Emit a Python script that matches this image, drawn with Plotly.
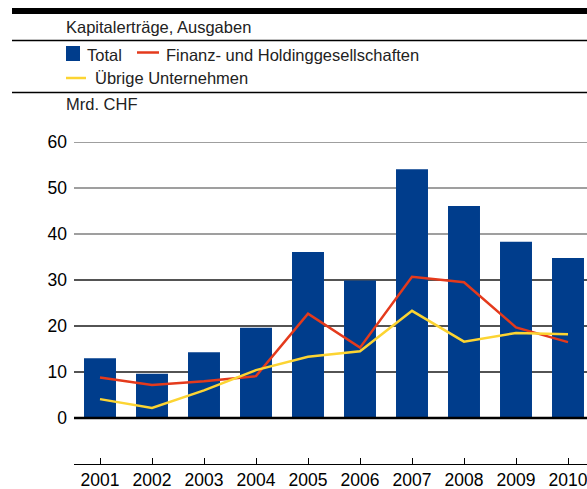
import plotly.graph_objects as go

years = ["2001", "2002", "2003", "2004", "2005", "2006", "2007", "2008", "2009", "2010"]
total = [13.0, 9.6, 14.3, 19.6, 36.1, 29.9, 54.1, 46.1, 38.3, 34.8]
finanz = [8.8, 7.2, 8.0, 9.1, 22.7, 15.3, 30.7, 29.5, 19.7, 16.5]
uebrige = [4.1, 2.2, 6.0, 10.4, 13.3, 14.5, 23.3, 16.6, 18.5, 18.2]
y_ticks = [0, 10, 20, 30, 40, 50, 60]

BLUE = "#003d8c"
RED = "#e43a1c"
YELLOW = "#fcd432"
FONT = "Liberation Sans, Arial, sans-serif"

W, H = 587, 489
L, R, T, B = 74, 0, 142, 489 - 464
pw, ph = W - L - R, H - T - B

def px(x):
    return (x - L) / pw

def py(y):
    return (H - B - y) / ph

x_idx = list(range(len(years)))

fig = go.Figure()
fig.add_trace(go.Bar(x=x_idx, y=total, marker=dict(color=BLUE, line=dict(width=0)),
                     width=0.615, name="Total", showlegend=False))
fig.add_trace(go.Scatter(x=x_idx, y=finanz, mode="lines", line=dict(color=RED, width=2.5),
                         name="Finanz- und Holdinggesellschaften", showlegend=False))
fig.add_trace(go.Scatter(x=x_idx, y=uebrige, mode="lines", line=dict(color=YELLOW, width=2.5),
                         name="Übrige Unternehmen", showlegend=False))

shapes = []
for v in y_ticks:
    if v == 0:
        continue
    shapes.append(dict(type="line", xref="paper", yref="y", x0=0, x1=1, y0=v, y1=v,
                       line=dict(color="#7f7f7f" if v >= 40 else "#1a1a1a", width=1.5),
                       layer="below"))
shapes.append(dict(type="line", xref="paper", yref="y", x0=0, x1=1, y0=0, y1=0,
                   line=dict(color="#000000", width=2.5), layer="above"))
shapes.append(dict(type="rect", xref="paper", yref="paper", x0=px(12), x1=px(600),
                   y0=py(14), y1=py(8), fillcolor="#000", line=dict(width=0)))
for yy in (40.5, 92.5):
    shapes.append(dict(type="line", xref="paper", yref="paper", x0=px(12), x1=px(600),
                       y0=py(yy), y1=py(yy), line=dict(color="#000", width=1.3)))
shapes.append(dict(type="rect", xref="paper", yref="paper", x0=px(66), x1=px(80),
                   y0=py(61), y1=py(46), fillcolor=BLUE, line=dict(width=0)))
shapes.append(dict(type="line", xref="paper", yref="paper", x0=px(137), x1=px(159),
                   y0=py(52.5), y1=py(52.5), line=dict(color=RED, width=2.5)))
shapes.append(dict(type="line", xref="paper", yref="paper", x0=px(66), x1=px(86),
                   y0=py(78), y1=py(78), line=dict(color=YELLOW, width=2.5)))

anns = []
def text(x, y, s, size=16.5):
    anns.append(dict(x=px(x), y=py(y), xref="paper", yref="paper", text=s, showarrow=False,
                     xanchor="left", yanchor="middle", xshift=-2,
                     font=dict(family=FONT, size=size, color="#222")))

text(66, 27, "Kapitalerträge, Ausgaben")
text(87, 55, "Total", 16.5)
text(166, 55, "Finanz- und Holdinggesellschaften", 16.5)
text(95, 78, "Übrige Unternehmen", 16.5)
text(66, 104, "Mrd. CHF")

fig.update_layout(
    width=W, height=H,
    margin=dict(l=L, r=R, t=T, b=B),
    paper_bgcolor="white", plot_bgcolor="white",
    shapes=shapes, annotations=anns,
    showlegend=False,
    xaxis=dict(range=[-0.5, 9.5 - 7/52], tickmode="array", tickvals=x_idx, ticktext=years,
               tickson="boundaries", ticks="inside", ticklen=6, tickcolor="#000", tickwidth=1,
               showline=True, linecolor="#000", linewidth=1, showgrid=False, zeroline=False,
               ticklabeloverflow="allow",
               tickfont=dict(family=FONT, size=17.5, color="#000"), fixedrange=True),
    yaxis=dict(range=[-10, 60], tickmode="array", tickvals=y_ticks,
               ticktext=[str(v) for v in y_ticks], showgrid=False, zeroline=False,
               showline=False, ticks="", ticklabelstandoff=6,
               tickfont=dict(family=FONT, size=17.5, color="#000"), fixedrange=True),
)
fig.write_html(
    "out.html",
    config={"displayModeBar": False},
    post_script="document.body.style.margin='0';document.body.style.overflow='hidden';"
                "document.documentElement.style.overflow='hidden';",
)
